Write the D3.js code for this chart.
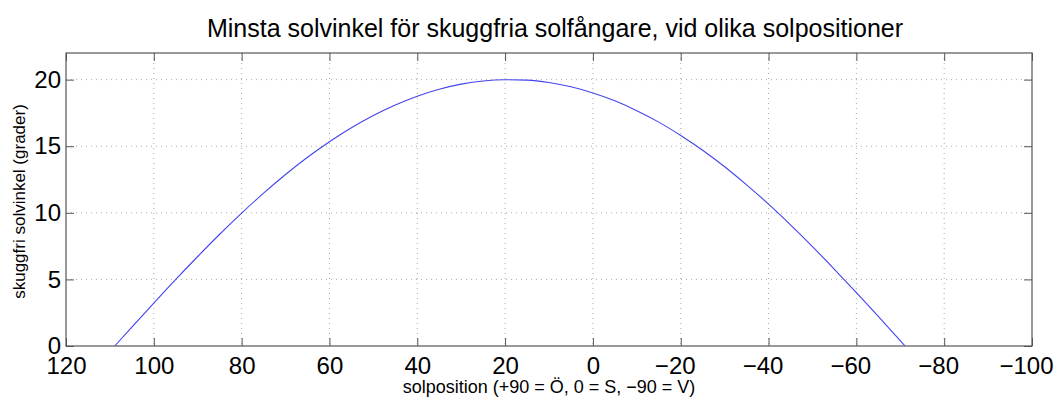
<!DOCTYPE html>
<html>
<head>
<meta charset="utf-8">
<script src="https://cdn.jsdelivr.net/npm/d3@7"></script>
<style>
body { margin: 0; background: #fff; }
svg { font-family: "Liberation Sans", Arial, sans-serif; }
</style>
</head>
<body>
<svg id="chart"></svg>
<script>
(function () {
var width = 1058, height = 398

// solposition (degrees) and minimum shadow-free sun angle (degrees)
var solpos = [108.9, 105, 100, 95, 90, 85, 80, 75, 70, 65, 60, 55, 50, 45, 40, 35, 30, 25, 20, 15,
              10, 5, 0, -5, -10, -15, -20, -25, -30, -35, -40, -45, -50, -55, -60, -65, -70, -71.1]
var vinkel = [0, 1.42, 3.22, 5.0, 6.72, 8.39, 9.98, 11.48, 12.88, 14.17, 15.34, 16.39, 17.31, 18.10, 18.76,
              19.28, 19.66, 19.90, 19.99, 19.96, 19.78, 19.46, 19.00, 18.41, 17.67, 16.81, 15.81, 14.70,
              13.46, 12.10, 10.65, 9.10, 7.47, 5.76, 4.01, 2.22, 0.40, 0]
var xTicks = [120, 100, 80, 60, 40, 20, 0, -20, -40, -60, -80, -100]
var yTicks = [0, 5, 10, 15, 20]

var title = 'Minsta solvinkel för skuggfria solfångare, vid olika solpositioner'
var xLabel = 'solposition (+90 = Ö, 0 = S, \u221290 = V)'
var yLabel = 'skuggfri solvinkel (grader)'

var margin = {top: 53, right: 26, bottom: 52, left: 66}
var w = width - margin.left - margin.right
var h = height - margin.top - margin.bottom

var svg = d3.select('#chart')
    .attr('width', width)
    .attr('height', height)

var g = svg.append('g')
    .attr('transform', 'translate(' + margin.left + ',' + margin.top + ')')

var x = d3.scaleLinear().domain([120, -100]).range([0, w])
var y = d3.scaleLinear().domain([0, 22]).range([h, 0])

var fmt = function (d) { return d < 0 ? '\u2212' + Math.abs(d) : d }

// dotted grid
g.append('g').selectAll('line')
    .data(xTicks.slice(1, -1))
    .enter().append('line')
    .attr('x1', d => x(d)).attr('x2', d => x(d))
    .attr('y1', 0).attr('y2', h)
    .attr('stroke', '#aaa')
    .attr('stroke-dasharray', '1,4')
g.append('g').selectAll('line')
    .data(yTicks.slice(1))
    .enter().append('line')
    .attr('x1', 0).attr('x2', w)
    .attr('y1', d => y(d)).attr('y2', d => y(d))
    .attr('stroke', '#aaa')
    .attr('stroke-dasharray', '1,4')

// axes, ticks pointing inward like matlab
var tickLen = 8
var xAxis = g.append('g')
    .attr('transform', 'translate(0,' + h + ')')
    .call(d3.axisBottom(x).tickValues(xTicks).tickFormat(fmt).tickSizeInner(-tickLen).tickSizeOuter(0).tickPadding(4))
var xTop = g.append('g')
    .call(d3.axisTop(x).tickValues(xTicks).tickFormat('').tickSizeInner(-tickLen).tickSizeOuter(0))
var yAxis = g.append('g')
    .call(d3.axisLeft(y).tickValues(yTicks).tickSizeInner(-tickLen).tickSizeOuter(0).tickPadding(5))
var yRight = g.append('g')
    .attr('transform', 'translate(' + w + ',0)')
    .call(d3.axisRight(y).tickValues(yTicks).tickFormat('').tickSizeInner(-tickLen).tickSizeOuter(0))

;[xAxis, xTop, yAxis, yRight].forEach(function (a) {
    a.select('.domain').remove()
    a.selectAll('line').attr('stroke', '#555')
    a.selectAll('text').attr('fill', '#000').style('font-size', '24px')
})
xAxis.selectAll('text').attr('dy', '1em')
    .attr('dx', d => d < 0 ? -6 : 0)

// box
g.append('rect')
    .attr('width', w).attr('height', h)
    .attr('fill', 'none')
    .attr('stroke', '#555')
    .attr('stroke-width', 1.2)

// curve
var pts = solpos.map((d, i) => [d, vinkel[i]])
g.append('path')
    .datum(pts)
    .attr('fill', 'none')
    .attr('stroke', '#4444ee')
    .attr('stroke-width', 1.1)
    .attr('d', d3.line().x(d => x(d[0])).y(d => y(d[1])).curve(d3.curveMonotoneX))

// labels
svg.append('text')
    .attr('x', margin.left + w / 2 + 6)
    .attr('y', 37)
    .attr('text-anchor', 'middle')
    .style('font-size', '25px')
    .text(title)

svg.append('text')
    .attr('x', margin.left + w / 2)
    .attr('y', 393)
    .attr('text-anchor', 'middle')
    .style('font-size', '18px')
    .text(xLabel)

svg.append('text')
    .attr('transform', 'translate(25,' + (margin.top + h / 2 + 2) + ') rotate(-90)')
    .attr('text-anchor', 'middle')
    .style('font-size', '17px')
    .text(yLabel)
})();
</script>
</body>
</html>
